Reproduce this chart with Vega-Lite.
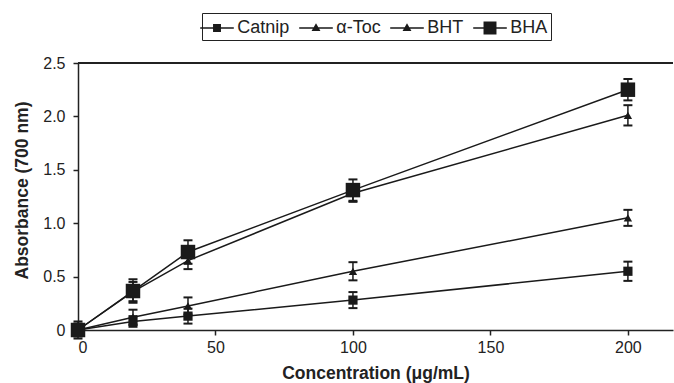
{
  "$schema": "https://vega.github.io/schema/vega-lite/v6.json",
  "width": 595,
  "height": 267,
  "autosize": {"type": "none"},
  "padding": {"left": 78, "top": 63, "right": 1, "bottom": 53},
  "background": "white",
  "config": {
    "view": {"stroke": null},
    "font": "Liberation Sans",
    "axis": {"domainColor": "#222", "domainWidth": 1.5, "tickColor": "#222", "tickWidth": 1.5, "tickSize": 5, "grid": false, "labelColor": "#222", "titleColor": "#222", "labelFont": "Liberation Sans", "titleFont": "Liberation Sans", "labelFontSize": 16, "titleFontSize": 17.5, "titleFontWeight": "bold"}
  },
  "data": {"values": [
    {"series": "Catnip", "x": 0, "y": 0, "err": 0.05},
    {"series": "Catnip", "x": 20, "y": 0.08, "err": 0.05},
    {"series": "Catnip", "x": 40, "y": 0.13, "err": 0.07},
    {"series": "Catnip", "x": 100, "y": 0.28, "err": 0.075},
    {"series": "Catnip", "x": 200, "y": 0.55, "err": 0.09},
    {"series": "α-Toc", "x": 0, "y": 0, "err": 0.05},
    {"series": "α-Toc", "x": 20, "y": 0.12, "err": 0.07},
    {"series": "α-Toc", "x": 40, "y": 0.225, "err": 0.08},
    {"series": "α-Toc", "x": 100, "y": 0.55, "err": 0.085},
    {"series": "α-Toc", "x": 200, "y": 1.05, "err": 0.075},
    {"series": "BHT", "x": 0, "y": 0, "err": 0.06},
    {"series": "BHT", "x": 20, "y": 0.36, "err": 0.09},
    {"series": "BHT", "x": 40, "y": 0.65, "err": 0.08},
    {"series": "BHT", "x": 100, "y": 1.28, "err": 0.08},
    {"series": "BHT", "x": 200, "y": 2.01, "err": 0.095},
    {"series": "BHA", "x": 0, "y": 0, "err": 0.08},
    {"series": "BHA", "x": 20, "y": 0.365, "err": 0.11},
    {"series": "BHA", "x": 40, "y": 0.73, "err": 0.11},
    {"series": "BHA", "x": 100, "y": 1.31, "err": 0.1},
    {"series": "BHA", "x": 200, "y": 2.25, "err": 0.1}
  ]},
  "transform": [
    {"calculate": "datum.y - datum.err", "as": "lo"},
    {"calculate": "datum.y + datum.err", "as": "hi"}
  ],
  "encoding": {
    "x": {"field": "x", "type": "quantitative", "scale": {"domain": [0, 216.4], "nice": false, "zero": false},
      "axis": {"values": [0, 50, 100, 150, 200], "title": "Concentration (μg/mL)", "labelPadding": 4, "titleY": 43, "titleBaseline": "middle"}},
    "y": {"field": "y", "type": "quantitative", "scale": {"domain": [0, 2.5], "nice": false},
      "axis": {"values": [0, 0.5, 1, 1.5, 2, 2.5], "labelExpr": "datum.value == 0 ? '0' : format(datum.value, '.1f')", "title": "Absorbance (700 nm)", "labelPadding": 8, "titleX": -56, "titleY": 127, "titleAngle": -90, "titleAlign": "center", "titleBaseline": "middle"}}
  },
  "layer": [
    {
      "mark": {"type": "rule", "color": "#222", "strokeWidth": 1.5},
      "encoding": {"y": {"datum": 2.5, "type": "quantitative"}, "x": null}
    },
    {
      "mark": {"type": "line", "color": "#1a1a1a", "strokeWidth": 1.5, "interpolate": "linear"},
      "encoding": {"detail": {"field": "series"}}
    },
    {
      "mark": {"type": "errorbar", "color": "#1a1a1a", "opacity": 1, "ticks": {"size": 9, "thickness": 2, "opacity": 1}, "rule": {"strokeWidth": 1.5, "opacity": 1}},
      "encoding": {
        "y": {"field": "lo", "type": "quantitative"},
        "y2": {"field": "hi"}
      }
    },
    {
      "mark": {"type": "point", "filled": true, "color": "#1a1a1a", "opacity": 1},
      "encoding": {
        "shape": {"condition": {"test": "datum.series === 'BHA' || datum.series === 'Catnip'", "value": "square"}, "value": "triangle-up"},
        "size": {"condition": [{"test": "datum.series === 'BHA'", "value": 210}, {"test": "datum.series === 'Catnip'", "value": 85}], "value": 70}
      }
    },
    {
      "transform": [{"filter": "false"}],
      "mark": {"type": "point", "filled": true, "color": "#1a1a1a", "opacity": 1},
      "encoding": {
        "shape": {"field": "series", "type": "nominal", "sort": ["Catnip", "α-Toc", "BHT", "BHA"],
          "scale": {"domain": ["Catnip", "α-Toc", "BHT", "BHA"], "range": [
            "M-1.4,-0.065H1.4V0.065H-1.4ZM-0.33,-0.33H0.33V0.33H-0.33Z",
            "M-1.4,-0.065H1.4V0.065H-1.4ZM-0.37,0.25L0,-0.4L0.37,0.25Z",
            "M-1.4,-0.065H1.4V0.065H-1.4ZM-0.37,0.25L0,-0.4L0.37,0.25Z",
            "M-1.4,-0.065H1.4V0.065H-1.4ZM-0.54,-0.54H0.54V0.54H-0.54Z"]},
          "legend": {
            "title": null, "orient": "none", "legendX": 124, "legendY": -50, "direction": "horizontal", "columns": 4,
            "strokeColor": "#222", "padding": 3, "labelFont": "Liberation Sans", "labelFontSize": 18, "labelColor": "#222",
            "symbolSize": 576, "symbolFillColor": "#1a1a1a", "symbolStrokeWidth": 0, "symbolOpacity": 1,
            "labelOffset": 8.3, "columnPadding": 9
          }
        }
      }
    }
  ]
}
